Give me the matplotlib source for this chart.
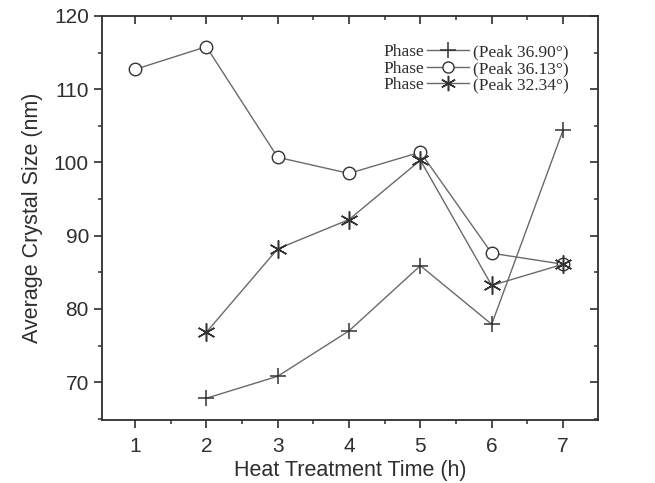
import matplotlib
matplotlib.use("Agg")
import matplotlib.pyplot as plt
from matplotlib.ticker import MultipleLocator

# data
x_plus = [2, 3, 4, 5, 6, 7]
y_plus = [67.8, 70.8, 77.0, 85.9, 77.9, 104.4]

x_circ = [1, 2, 3, 4, 5, 6, 7]
y_circ = [112.7, 115.8, 100.7, 98.5, 101.4, 87.6, 86.1]

x_star = [2, 3, 4, 5, 6, 7]
y_star = [76.8, 88.2, 92.2, 100.3, 83.2, 86.1]

labels = ["(Peak 36.90\u00b0)", "(Peak 36.13\u00b0)", "(Peak 32.34\u00b0)"]

plt.rcParams['font.family'] = ['Liberation Sans', 'DejaVu Sans']

fig = plt.figure(figsize=(6.55, 4.83), dpi=100)
ax = fig.add_axes([0.156, 0.130, 0.757, 0.837])

line_c = '#6a6a6a'
mark_c = '#333333'
txt_c = '#2e2e2e'

ax.plot(x_plus, y_plus, color=line_c, lw=1.0, marker='+', ms=12, mew=1.1,
        mec=mark_c, label=labels[0])
ax.plot(x_circ, y_circ, color=line_c, lw=1.0, marker='o', ms=9, mew=1.0,
        mec=mark_c, mfc='white', label=labels[1])
ax.plot(x_star, y_star, color=line_c, lw=1.0, marker=(6, 2, 0), ms=13, mew=1.1,
        mec=mark_c, label=labels[2])

ax.set_xlim(0.54, 7.49)
ax.set_ylim(64.8, 120)
ax.xaxis.set_major_locator(MultipleLocator(1))
ax.xaxis.set_minor_locator(MultipleLocator(0.5))
ax.yaxis.set_major_locator(MultipleLocator(10))
ax.yaxis.set_minor_locator(MultipleLocator(5))

for s in ax.spines.values():
    s.set_linewidth(1.3)
    s.set_color('#2e2e2e')

ax.tick_params(which='both', direction='out', colors='#2e2e2e', labelsize=15,
               labelcolor=txt_c)
ax.tick_params(which='major', length=6, width=1.2)
ax.tick_params(which='minor', length=3, width=1.1)
ax.tick_params(axis='x', pad=6)

# inward ticks on top and right
ax2 = ax.twiny()
ax2.set_xlim(ax.get_xlim())
ax2.xaxis.set_major_locator(MultipleLocator(1))
ax2.xaxis.set_minor_locator(MultipleLocator(0.5))
ax2.tick_params(which='both', direction='in', labeltop=False, colors='#2e2e2e')
ax2.tick_params(which='major', length=6, width=1.2)
ax2.tick_params(which='minor', length=3, width=1.1)
ax3 = ax.twinx()
ax3.set_ylim(ax.get_ylim())
ax3.yaxis.set_major_locator(MultipleLocator(10))
ax3.yaxis.set_minor_locator(MultipleLocator(5))
ax3.tick_params(which='both', direction='in', labelright=False, colors='#2e2e2e')
ax3.tick_params(which='major', length=6, width=1.2)
ax3.tick_params(which='minor', length=3, width=1.1)
for a in (ax2, ax3):
    for s in a.spines.values():
        s.set_visible(False)

ax.set_xlabel('Heat Treatment Time (h)', fontsize=15.5, color=txt_c, labelpad=3)
ax.set_ylabel('Average Crystal Size (nm)', fontsize=15.5, color=txt_c, labelpad=8)

leg_fs = 12.5
h_len = 2.4
h_pad = 0.25
leg = ax3.legend(*ax.get_legend_handles_labels(), loc='upper left',
                 bbox_to_anchor=(0.655, 0.93), frameon=False,
                 prop={'family': 'Liberation Serif', 'size': leg_fs},
                 handlelength=h_len, handletextpad=h_pad, labelspacing=0.02,
                 borderaxespad=0, borderpad=0)
for t in leg.get_texts():
    t.set_color(txt_c)
for h, ms in zip(leg.legend_handles, [11, 8, 11]):
    h.set_markersize(ms)

# "Phase" words sit left of each legend sample
fig.canvas.draw()
inv = fig.transFigure.inverted()
fs_px = leg_fs * fig.dpi / 72
for t in leg.get_texts():
    bb = t.get_window_extent()
    xr = bb.x0 - (h_len + h_pad) * fs_px - 3
    x0, y0 = inv.transform((xr, (bb.y0 + bb.y1) / 2))
    fig.text(x0, y0, 'Phase', ha='right', va='center',
             family='Liberation Serif', fontsize=leg_fs, color=txt_c)

fig.savefig('out.png', dpi=100)
